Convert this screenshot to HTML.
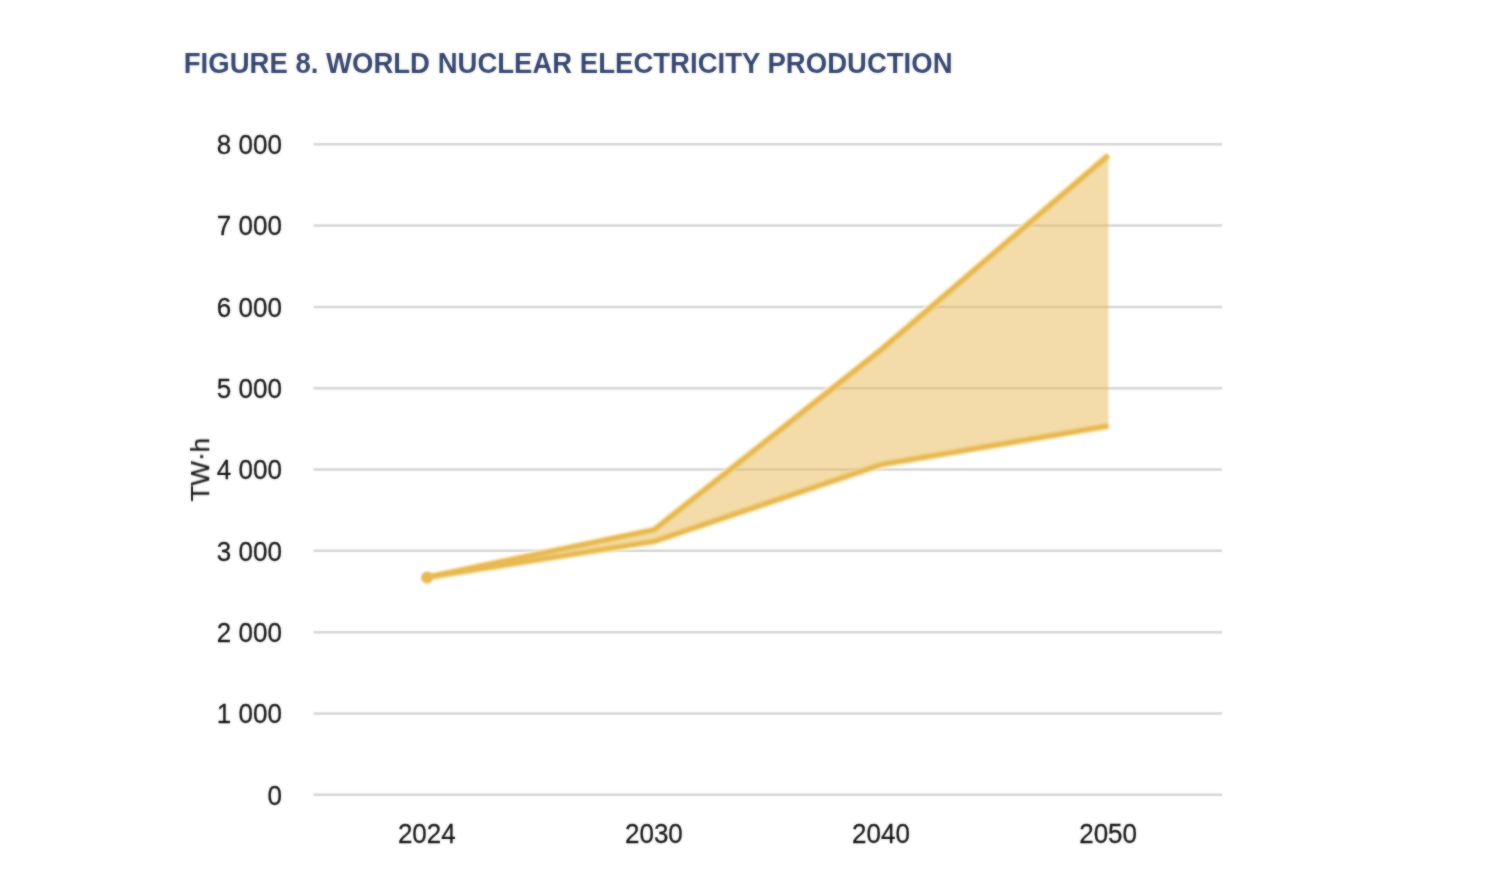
<!DOCTYPE html>
<html lang="en">
<head>
<meta charset="utf-8">
<title>Figure 8. World nuclear electricity production</title>
<style>
html,body{margin:0;padding:0;background:#fff;}
body{width:1497px;height:877px;overflow:hidden;position:relative;font-family:"Liberation Sans",sans-serif;}
svg{position:absolute;left:0;top:0;display:block;}
.title{font-family:"Liberation Sans",sans-serif;font-weight:bold;font-size:27.54px;fill:#36466e;}
.ax{font-family:"Liberation Sans",sans-serif;font-size:26px;fill:#141414;stroke:#141414;stroke-width:0.25;}
</style>
</head>
<body>
<svg width="1497" height="877" viewBox="0 0 1497 877">
<defs><filter id="soft" x="0" y="0" width="1497" height="877" filterUnits="userSpaceOnUse" color-interpolation-filters="sRGB"><feGaussianBlur stdDeviation="0.8" result="b"/><feComposite in="SourceGraphic" in2="b" operator="arithmetic" k1="0" k2="0.5" k3="0.5" k4="0"/></filter>
<filter id="soft2" x="0" y="0" width="1497" height="877" filterUnits="userSpaceOnUse" color-interpolation-filters="sRGB"><feGaussianBlur stdDeviation="0.8" result="b"/><feComposite in="SourceGraphic" in2="b" operator="arithmetic" k1="0" k2="0.0" k3="1.0" k4="0"/></filter></defs>
<rect x="0" y="0" width="1497" height="877" fill="#ffffff"/>
<g filter="url(#soft)">
<text class="title" transform="translate(183.75 72.7) scale(1 1.055)">FIGURE 8. WORLD NUCLEAR ELECTRICITY PRODUCTION</text>
<g stroke="#d5d5d6" stroke-width="2.5" fill="none">
<line x1="313.5" y1="794.80" x2="1222.0" y2="794.80"/>
<line x1="313.5" y1="713.48" x2="1222.0" y2="713.48"/>
<line x1="313.5" y1="632.16" x2="1222.0" y2="632.16"/>
<line x1="313.5" y1="550.84" x2="1222.0" y2="550.84"/>
<line x1="313.5" y1="469.52" x2="1222.0" y2="469.52"/>
<line x1="313.5" y1="388.21" x2="1222.0" y2="388.21"/>
<line x1="313.5" y1="306.89" x2="1222.0" y2="306.89"/>
<line x1="313.5" y1="225.57" x2="1222.0" y2="225.57"/>
<line x1="313.5" y1="144.25" x2="1222.0" y2="144.25"/>
</g>
<g class="ax" text-anchor="end">
<text transform="translate(281.9 804.65) scale(1 1.03)">0</text>
<text transform="translate(281.9 723.33) scale(1 1.03)">1 000</text>
<text transform="translate(281.9 642.01) scale(1 1.03)">2 000</text>
<text transform="translate(281.9 560.69) scale(1 1.03)">3 000</text>
<text transform="translate(281.9 479.38) scale(1 1.03)">4 000</text>
<text transform="translate(281.9 398.06) scale(1 1.03)">5 000</text>
<text transform="translate(281.9 316.74) scale(1 1.03)">6 000</text>
<text transform="translate(281.9 235.42) scale(1 1.03)">7 000</text>
<text transform="translate(281.9 154.10) scale(1 1.03)">8 000</text>
</g>
<g class="ax" text-anchor="middle">
<text transform="translate(426.8 843.3) scale(1 1.03)">2024</text>
<text transform="translate(653.9 843.3) scale(1 1.03)">2030</text>
<text transform="translate(881.0 843.3) scale(1 1.03)">2040</text>
<text transform="translate(1108.1 843.3) scale(1 1.03)">2050</text>
</g>
<text class="ax" text-anchor="middle" transform="translate(209.0 469.6) rotate(-90)">TW·h</text>
</g>
<g filter="url(#soft2)">
<g fill="none" stroke="#fdf3d4" stroke-width="8.5" stroke-linejoin="round" stroke-linecap="butt">
<polyline points="427.1,577.2 654.2,541.4 881.3,464.6 1108.4,426.0"/>
<polyline points="427.1,577.2 654.2,529.6 881.3,349.5 1108.4,155.1"/>
</g>
<polygon points="427.1,577.2 654.2,529.6 881.3,349.5 1108.4,155.1 1108.4,426.0 881.3,464.6 654.2,541.4 427.1,577.2" fill="#e8b953" fill-opacity="0.5"/>
<g fill="none" stroke="#e8b953" stroke-width="5.0" stroke-linejoin="round" stroke-linecap="butt">
<polyline points="427.1,577.2 654.2,541.4 881.3,464.6 1108.4,426.0"/>
<polyline points="427.1,577.2 654.2,529.6 881.3,349.5 1108.4,155.1"/>
</g>
<circle cx="427.1" cy="577.5" r="6.0" fill="#e8b953"/>
</g>
</svg>
</body>
</html>
